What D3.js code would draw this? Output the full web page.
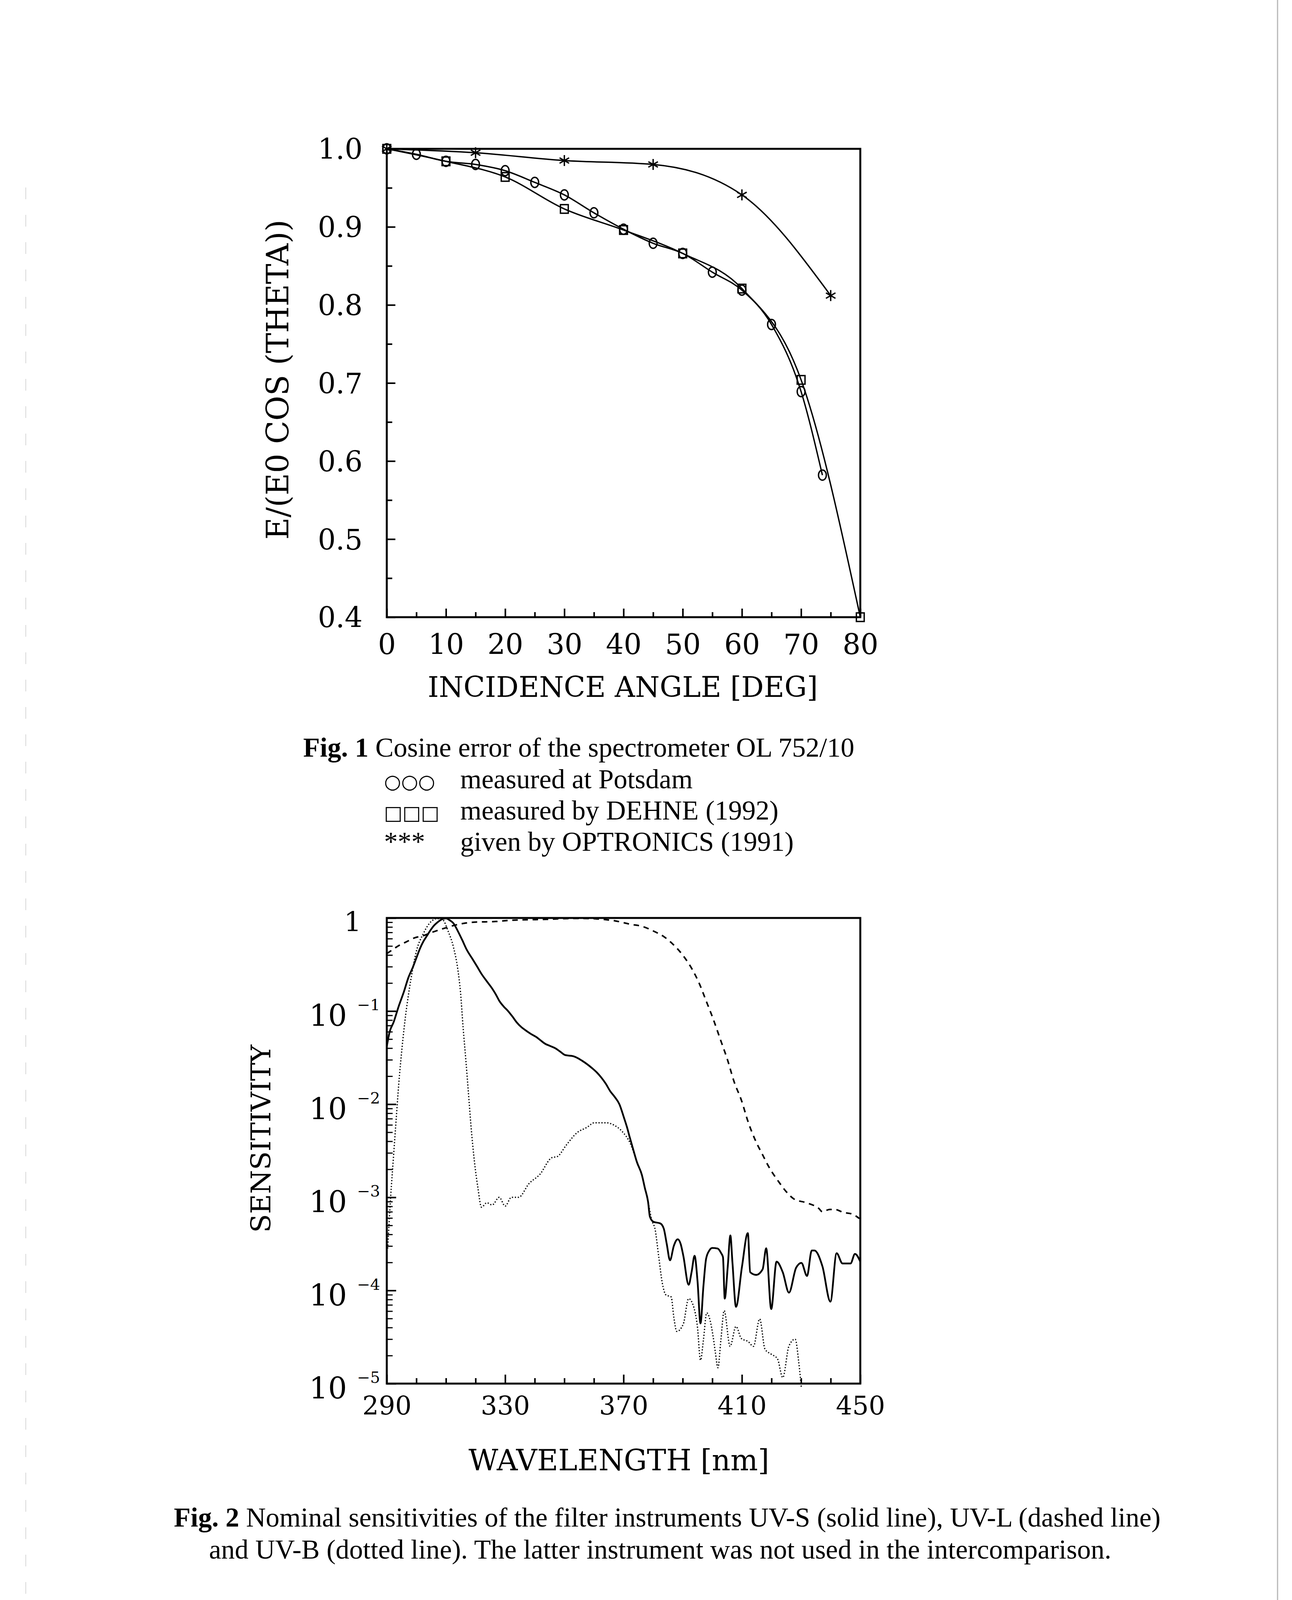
<!DOCTYPE html>
<html>
<head>
<meta charset="utf-8">
<script src="https://cdn.jsdelivr.net/npm/d3@7"></script>
<style>
  body { margin: 0; background: #fff; }
  .tick text { font-family: "DejaVu Serif", serif; fill: #000; }
</style>
</head>
<body>
<div id="page"></div>
<script>
// ---- Fig. 1 data: cosine error E/(E0 cos theta) vs incidence angle
const potsdamAngle = [0, 5, 10, 15, 20, 25, 30, 35, 40, 45, 50, 55, 60, 65, 70, 73.6];
const potsdamValue = [1.0, 0.993, 0.984, 0.980, 0.972, 0.957, 0.941, 0.918, 0.897, 0.879, 0.866, 0.842, 0.819, 0.775, 0.689, 0.582];
const dehneAngle = [0, 10, 20, 30, 40, 50, 60, 70, 80];
const dehneValue = [1.0, 0.984, 0.964, 0.923, 0.896, 0.866, 0.821, 0.704, 0.4];
const optronicsAngle = [0, 15, 30, 45, 60, 75];
const optronicsValue = [1.0, 0.995, 0.985, 0.980, 0.941, 0.812];
const angleTicks = [0, 10, 20, 30, 40, 50, 60, 70, 80];
const angleMinor = [5, 15, 25, 35, 45, 55, 65, 75];
const cosTicks = [0.4, 0.5, 0.6, 0.7, 0.8, 0.9, 1.0];
const cosMinor = [0.45, 0.55, 0.65, 0.75, 0.85, 0.95];

// ---- Fig. 2 data: nominal sensitivities vs wavelength [nm]
const uvsWl = [290, 291, 292.3, 294, 295.8, 297.3, 298.8, 300, 301.2, 302.4, 303.6, 304.8, 306, 307.2, 308.3, 310,
  311.3, 312.5, 314, 315.5, 317, 319, 320.5, 322, 323.8, 325.6, 327, 328, 329.5, 331, 332.5, 333.9, 335.4, 336.9,
  338.7, 340.5, 342, 343.5, 345.2, 347, 348.6, 350.3, 353, 354.5, 356, 357.7, 359.5, 361, 362.5, 364, 365.5, 367,
  368.6, 370.2, 371.2, 372, 373.4, 374.5, 376.2, 377.2, 378.3, 378.9, 380.1, 382.4, 383.6, 384.6, 385.7, 387, 388.3,
  389.3, 390.2, 392, 393, 394, 395, 396, 397, 397.9, 399, 400, 401.8, 403, 403.6, 404.2, 405.2, 406.1, 406.8, 408,
  410, 412, 412.8, 414.8, 417, 418.2, 419.9, 421.7, 423.8, 425.9, 428.3, 430.1, 432, 433.6, 434.5, 437.2, 439.9,
  442, 444, 446.7, 448.2, 450];
const uvsSens = [0.0417, 0.0603, 0.0759, 0.112, 0.162, 0.229, 0.295, 0.372, 0.468, 0.562, 0.646, 0.741, 0.832, 0.902, 0.955, 0.99,
  0.944, 0.879, 0.724, 0.579, 0.457, 0.361, 0.302, 0.251, 0.209, 0.175, 0.148, 0.129, 0.112, 0.1, 0.0871, 0.0757, 0.0676, 0.0622,
  0.0569, 0.0527, 0.0484, 0.0446, 0.0422, 0.0398, 0.0367, 0.0337, 0.0328, 0.0313, 0.0293, 0.0269, 0.0242, 0.0219, 0.0193, 0.0166, 0.0138, 0.0120,
  0.0100, 0.00708, 0.00562, 0.00453, 0.00316, 0.0024, 0.00174, 0.00126, 0.000891, 0.000621, 0.000546, 0.000525, 0.000461, 0.000316, 0.000211, 0.000302, 0.000355,
  0.000316, 0.000236, 0.000115, 0.000158, 0.000236, 0.000126, 0.0000443, 0.000112, 0.000219, 0.000269, 0.000286, 0.000282, 0.000251, 0.000228, 0.0000818, 0.000178, 0.00039, 0.0002, 0.0000667,
  0.000178, 0.000413, 0.000157, 0.000147, 0.000169, 0.000284, 0.0000631, 0.000204, 0.000157, 0.0000948, 0.000175, 0.000198, 0.000143, 0.000269, 0.000269, 0.000182, 0.0000759,
  0.000251, 0.000195, 0.000195, 0.000247, 0.000204];

const uvlWl = [290, 291.7, 294, 296.4, 299.4, 302.4, 305.4, 310.1, 314.3, 320.2, 326.2, 332.1, 338.1, 344, 350, 356,
  361.9, 367, 372.4, 376.5, 380.1, 383.6, 387.2, 390.2, 393.2, 395.5, 397.9, 400.3, 402.7, 405.1, 407.4, 409.8,
  412.2, 414.6, 416.9, 419.3, 422.3, 425.3, 427.7, 431.8, 436, 437.2, 439.6, 441.4, 444.3, 447.3, 449.7];
const uvlSens = [0.414, 0.451, 0.504, 0.55, 0.612, 0.647, 0.703, 0.787, 0.855, 0.904, 0.914, 0.946, 0.957, 0.966, 0.984, 0.989,
  0.973, 0.933, 0.855, 0.809, 0.724, 0.631, 0.504, 0.392, 0.281, 0.201, 0.129, 0.0822, 0.0498, 0.0302, 0.0173, 0.0111,
  0.00632, 0.00406, 0.0029, 0.00207, 0.00149, 0.00112, 0.000955, 0.000875, 0.000759, 0.0007, 0.000741, 0.000741, 0.000689, 0.000661, 0.000592];

const uvbWl = [290.3, 291.3, 292.3, 293.2, 294, 295.2, 296.4, 297.3, 298.2, 300, 302.4, 304.8, 307.1, 308.9, 310.7, 312.5,
  314, 314.9, 315.8, 316.7, 317.6, 318.5, 319.6, 320.8, 322, 323.8, 325.6, 328, 330, 332.1, 334.5, 338.1, 341.7,
  345.8, 347.6, 350.6, 354.2, 357.7, 360.1, 364.3, 366.7, 369.6, 372.2, 374.2, 376.5, 378.3, 379.5, 380.7, 381.9,
  383.1, 384.3, 386.1, 387, 388, 390.2, 392, 394, 395, 396, 397, 398.1, 400.3, 401, 401.9, 402.9, 404, 406, 408,
  409.8, 412.1, 413.9, 416, 417.8, 419.9, 422, 423.8, 425.9, 428, 429.2, 430.1];
const uvbSens = [0.000282, 0.001, 0.00282, 0.00708, 0.0158, 0.0417, 0.092, 0.148, 0.224, 0.439, 0.684, 0.904, 0.984, 0.957, 0.724, 0.49,
  0.281, 0.161, 0.0661, 0.0302, 0.0131, 0.00562, 0.00245, 0.00126, 0.000783, 0.000875, 0.000828, 0.001, 0.000805, 0.001, 0.001, 0.00141, 0.00176,
  0.00267, 0.00274, 0.00362, 0.00492, 0.00566, 0.00632, 0.00632, 0.00598, 0.00507, 0.00384, 0.00259, 0.00158, 0.000891, 0.000575, 0.000447, 0.000229,
  0.00012, 0.0000897, 0.0000851, 0.0000513, 0.0000363, 0.0000437, 0.0000818, 0.0000617, 0.0000398, 0.0000178, 0.0000295, 0.0000575, 0.0000316, 0.0000219, 0.0000148, 0.0000295, 0.0000608, 0.0000251, 0.0000411,
  0.0000305, 0.0000283, 0.0000251, 0.0000495, 0.0000234, 0.0000207, 0.0000185, 0.0000116, 0.0000254, 0.00003, 0.000017, 0.0000089];

const wlTicks = [290, 300, 310, 320, 330, 340, 350, 360, 370, 380, 390, 400, 410, 420, 430, 440, 450];
const wlLabels = [290, 330, 370, 410, 450];
const sensDecades = [1e-5, 1e-4, 1e-3, 1e-2, 1e-1, 1];
const sensExponents = ["\u22125", "\u22124", "\u22123", "\u22122", "\u22121", ""];

// ---- page
const W = 3307, H = 4677;
const svg = d3.select("#page").append("svg")
    .attr("width", W)
    .attr("height", H)
    .attr("viewBox", `0 0 ${W} ${H}`);
svg.append("rect").attr("width", W).attr("height", H).attr("fill", "#fff");

// faint scan edges
svg.append("line").attr("x1", 3270).attr("x2", 3270).attr("y1", 0).attr("y2", 4670)
    .attr("stroke", "#b8b8b8").attr("stroke-width", 3);
svg.append("line").attr("x1", 66).attr("x2", 66).attr("y1", 480).attr("y2", 4600)
    .attr("stroke", "#d8d8d8").attr("stroke-width", 2).attr("stroke-dasharray", "30 40");
svg.append("line").attr("x1", 60).attr("x2", 3270).attr("y1", 4665).attr("y2", 4665)
    .attr("stroke", "#c8c8c8").attr("stroke-width", 2).attr("stroke-dasharray", "40 20");

const serif = "'DejaVu Serif', serif";
const times = "'Liberation Serif', 'Times New Roman', serif";
const capSize = 70;

// ================= Fig. 1 =================
const f1 = { left: 990, right: 2202, top: 381, bottom: 1580 };
const x1 = d3.scaleLinear().domain([0, 80]).range([f1.left, f1.right]);
const y1 = d3.scaleLinear().domain([0.4, 1.0]).range([f1.bottom, f1.top]);
const g1 = svg.append("g");

// ticks (inward)
g1.append("g").attr("transform", `translate(0,${f1.bottom})`)
    .call(d3.axisBottom(x1).tickValues(angleTicks).tickSize(-22).tickPadding(44).tickFormat(d3.format("d")))
    .call(g => g.select(".domain").remove())
    .call(g => g.selectAll("line").attr("stroke-width", 4))
    .call(g => g.selectAll("text").attr("font-size", 72));
g1.append("g").attr("transform", `translate(0,${f1.bottom})`)
    .call(d3.axisBottom(x1).tickValues(angleMinor).tickSize(-13).tickFormat(""))
    .call(g => g.select(".domain").remove())
    .call(g => g.selectAll("line").attr("stroke-width", 4));
g1.append("g").attr("transform", `translate(${f1.left},0)`)
    .call(d3.axisLeft(y1).tickValues(cosTicks).tickSize(-22).tickPadding(62).tickFormat(d3.format(".1f")))
    .call(g => g.select(".domain").remove())
    .call(g => g.selectAll("line").attr("stroke-width", 4))
    .call(g => g.selectAll("text").attr("font-size", 72).attr("dy", "0.36em"));
g1.append("g").attr("transform", `translate(${f1.left},0)`)
    .call(d3.axisLeft(y1).tickValues(cosMinor).tickSize(-14).tickFormat(""))
    .call(g => g.select(".domain").remove())
    .call(g => g.selectAll("line").attr("stroke-width", 4));

g1.append("rect")
    .attr("x", f1.left).attr("y", f1.top)
    .attr("width", f1.right - f1.left).attr("height", f1.bottom - f1.top)
    .attr("fill", "none").attr("stroke", "#000").attr("stroke-width", 5);

const line1 = d3.line().x(d => x1(d[0])).y(d => y1(d[1])).curve(d3.curveMonotoneX);
const potsdam = d3.zip(potsdamAngle, potsdamValue);
const dehne = d3.zip(dehneAngle, dehneValue);
const optronics = d3.zip(optronicsAngle, optronicsValue);

[potsdam, dehne, optronics].forEach(s => {
  g1.append("path").datum(s).attr("d", line1)
      .attr("fill", "none").attr("stroke", "#000").attr("stroke-width", 3.5);
});

g1.selectAll(".mk-c").data(potsdam).join("ellipse")
    .attr("cx", d => x1(d[0])).attr("cy", d => y1(d[1]))
    .attr("rx", 10).attr("ry", 13)
    .attr("fill", "none").attr("stroke", "#000").attr("stroke-width", 3.5);
g1.selectAll(".mk-s").data(dehne).join("rect")
    .attr("x", d => x1(d[0]) - 10).attr("y", d => y1(d[1]) - 11)
    .attr("width", 20).attr("height", 22)
    .attr("fill", "none").attr("stroke", "#000").attr("stroke-width", 3.5);
g1.selectAll(".mk-a").data(optronics).join("path")
    .attr("transform", d => `translate(${x1(d[0])},${y1(d[1])})`)
    .attr("d", d3.symbol(d3.symbolAsterisk, 560))
    .attr("fill", "none").attr("stroke", "#000").attr("stroke-width", 3.5);

// axis titles
g1.append("text")
    .attr("transform", "translate(738,972) rotate(-90)")
    .attr("text-anchor", "middle")
    .attr("font-family", serif).attr("font-size", 78)
    .text("E/(E0 COS (THETA))");
g1.append("text")
    .attr("x", 1594).attr("y", 1784)
    .attr("text-anchor", "middle")
    .attr("font-family", serif).attr("font-size", 72)
    .text("INCIDENCE ANGLE [DEG]");

// caption and legend
g1.append("text").attr("x", 776).attr("y", 1937)
    .attr("font-family", times).attr("font-size", capSize)
    .call(t => t.append("tspan").attr("font-weight", "bold").text("Fig. 1"))
    .call(t => t.append("tspan").text(" Cosine error of the spectrometer OL 752/10"));
const legendRows = [
  { sym: "\u25CB\u25CB\u25CB", symFont: "'DejaVu Sans', sans-serif", symSize: 50, label: "measured at Potsdam", y: 2018 },
  { sym: "\u25A1\u25A1\u25A1", symFont: "'DejaVu Sans', sans-serif", symSize: 50, label: "measured by DEHNE (1992)", y: 2098 },
  { sym: "***", symFont: times, symSize: capSize, label: "given by OPTRONICS (1991)", y: 2178 }
];
legendRows.forEach(r => {
  g1.append("text").attr("x", 983).attr("y", r.y)
      .attr("font-family", r.symFont).attr("font-size", r.symSize).text(r.sym);
  g1.append("text").attr("x", 1178).attr("y", r.y)
      .attr("font-family", times).attr("font-size", capSize).text(r.label);
});

// ================= Fig. 2 =================
const f2 = { left: 990, right: 2202, top: 2350, bottom: 3542 };
const x2 = d3.scaleLinear().domain([290, 450]).range([f2.left, f2.right]);
const y2 = d3.scaleLog().domain([1e-5, 1]).range([f2.bottom, f2.top]);
const g2 = svg.append("g");

g2.append("g").attr("transform", `translate(0,${f2.bottom})`)
    .call(d3.axisBottom(x2).tickValues(wlTicks)
        .tickSize(-14).tickPadding(32)
        .tickFormat(d => wlLabels.includes(d) ? d : ""))
    .call(g => g.select(".domain").remove())
    .call(g => g.selectAll("line").attr("stroke-width", 4)
        .attr("y2", d => wlLabels.includes(d) ? -23 : -14))
    .call(g => g.selectAll("text").attr("font-size", 66));

const minorLog = y2.ticks().filter(v => !sensDecades.some(d => Math.abs(d - v) / d < 1e-6));
g2.append("g").attr("transform", `translate(${f2.left},0)`)
    .call(d3.axisLeft(y2).tickValues(minorLog).tickSize(-15).tickFormat(""))
    .call(g => g.select(".domain").remove())
    .call(g => g.selectAll("line").attr("stroke-width", 3));
g2.append("g").attr("transform", `translate(${f2.left},0)`)
    .call(d3.axisLeft(y2).tickValues(sensDecades).tickSize(-24).tickFormat(""))
    .call(g => g.select(".domain").remove())
    .call(g => g.selectAll("line").attr("stroke-width", 4));

// decade labels: 1, 10^-1 ... 10^-5
const decadeLabels = g2.append("g").selectAll("g")
    .data(d3.zip(sensDecades, sensExponents)).join("g")
    .attr("transform", d => `translate(0,${y2(d[0])})`);
decadeLabels.filter(d => d[0] === 1).append("text")
    .attr("x", 925).attr("y", 34).attr("text-anchor", "end")
    .attr("font-family", serif).attr("font-size", 70).text("1");
decadeLabels.filter(d => d[0] < 1).append("text")
    .attr("x", 888).attr("y", 38).attr("text-anchor", "end")
    .attr("font-family", serif).attr("font-size", 76).text("10");
decadeLabels.filter(d => d[0] < 1).append("text")
    .attr("x", 914).attr("y", -2).attr("text-anchor", "start")
    .attr("font-family", serif).attr("font-size", 40).text(d => d[1]);

g2.append("rect")
    .attr("x", f2.left).attr("y", f2.top)
    .attr("width", f2.right - f2.left).attr("height", f2.bottom - f2.top)
    .attr("fill", "none").attr("stroke", "#000").attr("stroke-width", 5);

const line2 = d3.line().x(d => x2(d[0])).y(d => y2(d[1])).curve(d3.curveMonotoneX);
g2.append("path").datum(d3.zip(uvlWl, uvlSens)).attr("d", line2)
    .attr("fill", "none").attr("stroke", "#000").attr("stroke-width", 4)
    .attr("stroke-dasharray", "14 12");
g2.append("path").datum(d3.zip(uvbWl, uvbSens)).attr("d", line2)
    .attr("fill", "none").attr("stroke", "#000").attr("stroke-width", 3.2)
    .attr("stroke-dasharray", "3 4.5");
g2.append("path").datum(d3.zip(uvsWl, uvsSens)).attr("d", line2)
    .attr("fill", "none").attr("stroke", "#000").attr("stroke-width", 4.5);

g2.append("text")
    .attr("transform", "translate(692,2915) rotate(-90)")
    .attr("text-anchor", "middle")
    .attr("font-family", serif).attr("font-size", 70)
    .text("SENSITIVITY");
g2.append("text")
    .attr("x", 1584).attr("y", 3764)
    .attr("text-anchor", "middle")
    .attr("font-family", serif).attr("font-size", 74)
    .text("WAVELENGTH [nm]");

g2.append("text").attr("x", 445).attr("y", 3908)
    .attr("font-family", times).attr("font-size", capSize)
    .call(t => t.append("tspan").attr("font-weight", "bold").text("Fig. 2"))
    .call(t => t.append("tspan").text(" Nominal sensitivities of the filter instruments UV-S (solid line), UV-L (dashed line)"));
g2.append("text").attr("x", 535).attr("y", 3990)
    .attr("font-family", times).attr("font-size", capSize)
    .text("and UV-B (dotted line). The latter instrument was not used in the intercomparison.");

svg.append("text").attr("x", 2796).attr("y", 4246)
    .attr("font-family", times).attr("font-size", capSize).text("47");
</script>
</body>
</html>
